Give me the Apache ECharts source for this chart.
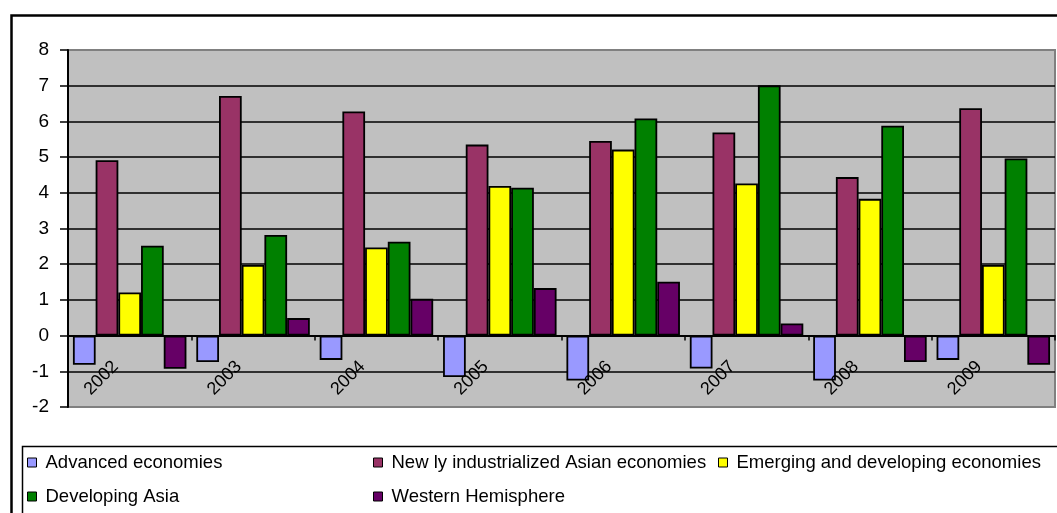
<!DOCTYPE html>
<html>
<head>
<meta charset="utf-8">
<script src="https://cdn.jsdelivr.net/npm/echarts@6/dist/echarts.min.js"></script>
<style>html,body{margin:0;padding:0;background:#fff;}#c{width:1057px;height:513px;}</style>
</head>
<body>
<div id="c"></div>
<script>
var categories = ['2002','2003','2004','2005','2006','2007','2008','2009'];
var advanced   = [-0.82, -0.74, -0.68, -1.16, -1.26, -0.92, -1.26, -0.68];
var newlyInd   = [4.91, 6.71, 6.28, 5.35, 5.45, 5.69, 4.44, 6.37];
var emerging   = [1.21, 1.98, 2.47, 4.19, 5.21, 4.26, 3.83, 1.98];
var devAsia    = [2.52, 2.82, 2.63, 4.14, 6.08, 7.01, 5.88, 4.96];
var western    = [-0.93, 0.49, 1.03, 1.33, 1.51, 0.34, -0.74, -0.82];
var seriesNames = ['Advanced economies','New ly industrialized Asian economies','Emerging and developing economies','Developing Asia','Western Hemisphere'];
var seriesColors = ['#9999FF','#993366','#FFFF00','#008000','#660066'];
var seriesData = [advanced, newlyInd, emerging, devAsia, western];

var font = 'Liberation Sans, Arial, sans-serif';
var chart = echarts.init(document.getElementById('c'), null, {renderer:'canvas'});

var series = seriesNames.map(function(n, i){
  return {
    name: n, type: 'bar', data: seriesData[i],
    barGap: '0%', barCategoryGap: '8%',
    itemStyle: {color: seriesColors[i], borderColor: '#000', borderWidth: 1.8},
    emphasis: {disabled: true}, animation: false
  };
});

// category labels drawn at the zero baseline (axis crosses at 0)
series.push({
  name: 'axisLabels', type: 'scatter', silent: true, symbolSize: 0, z: 10,
  itemStyle: {color: '#000'},
  data: categories.map(function(c){ return [c, 0]; }),
  label: {
    show: true, position: 'inside', rotate: 45, align: 'right', verticalAlign: 'middle',
    offset: [-30, 10], fontSize: 18, color: '#000', fontFamily: font,
    textBorderWidth: 0, textShadowBlur: 0, opacity: 1,
    formatter: function(p){ return p.value[0]; }
  },
  emphasis: {disabled: true}, animation: false
});

var legendPos = [[27,453],[373,453],[718,453],[27,487],[373,487]];
var legends = seriesNames.map(function(n, i){
  return {
    data: [n], left: legendPos[i][0], top: legendPos[i][1], padding: 0,
    icon: 'rect', itemWidth: 9, itemHeight: 9,
    itemStyle: {borderColor: '#000', borderWidth: 1},
    textStyle: {fontSize: 18.5, color: '#000', fontFamily: font, padding: [0,0,0,4]},
    selectedMode: false
  };
});

var splitColors = [];
for (var k = 0; k < 11; k++) splitColors.push((k === 0 || k === 10) ? '#808080' : '#000');

chart.setOption({
  animation: false,
  backgroundColor: '#fff',
  graphic: [
    {type:'rect', left: 9, top: 13, shape:{width:1100, height:600}, style:{fill:'none', stroke:'#000', lineWidth:2.5}, z: -1},
    {type:'rect', left: 20, top: 444, shape:{width:1100, height:100}, style:{fill:'none', stroke:'#000', lineWidth:1.5}, z: -1}
  ],
  legend: legends,
  grid: {left: 68, right: 2, top: 50, bottom: 106, show: true, backgroundColor: '#C0C0C0', borderColor: '#808080', borderWidth: 2},
  xAxis: {
    type: 'category', data: categories,
    axisLine: {onZero: true, lineStyle: {color: '#000', width: 2}},
    axisTick: {show: true, length: 5, lineStyle: {color: '#000', width: 1.5}},
    axisLabel: {show: false},
    splitLine: {show: false}
  },
  yAxis: {
    type: 'value', min: -2, max: 8, interval: 1,
    axisLine: {show: true, lineStyle: {color: '#000', width: 2}},
    axisTick: {show: true, length: 8, lineStyle: {color: '#000', width: 1.5}},
    axisLabel: {margin: 19, fontSize: 19, color: '#000', fontFamily: font},
    splitLine: {show: true, lineStyle: {color: splitColors, width: 1.5}}
  },
  series: series
});
</script>
</body>
</html>
